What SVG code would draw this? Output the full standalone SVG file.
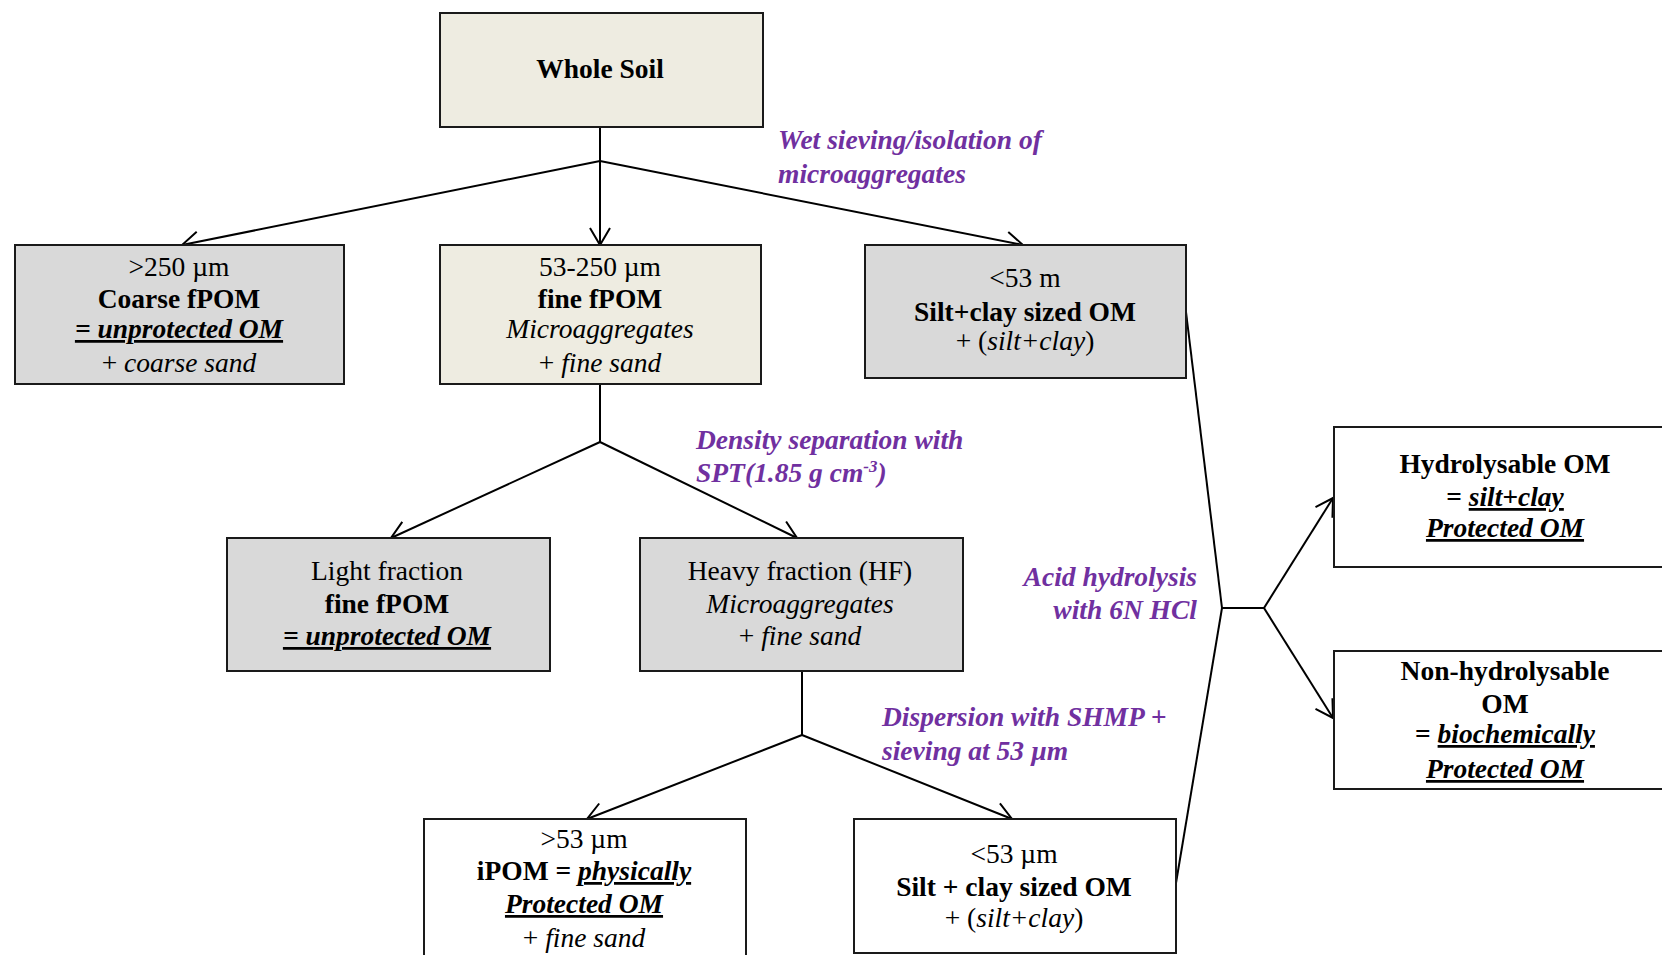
<svg xmlns="http://www.w3.org/2000/svg" width="1662" height="955" viewBox="0 0 1662 955">
<style>
text{font-family:"Liberation Serif","Times New Roman",serif;font-size:27.5px;fill:#000;text-anchor:middle}
.b{font-weight:bold}
.i{font-style:italic}
.bi{font-weight:bold;font-style:italic}
.u{text-decoration:underline}
.lbl{font-weight:bold;font-style:italic;fill:#7030A0;text-anchor:start}
.beige{fill:#EEECE1;stroke:#1a1a1a;stroke-width:2}
.grey{fill:#D9D9D9;stroke:#1a1a1a;stroke-width:2}
.white{fill:#FFFFFF;stroke:#1a1a1a;stroke-width:2}
.c line{stroke:#000;stroke-width:2;fill:none}
.a{marker-end:url(#arr)}
</style>
<defs>
<marker id="arr" markerUnits="userSpaceOnUse" markerWidth="40" markerHeight="40" viewBox="-20 -20 40 40" refX="0" refY="0" orient="auto">
<path d="M-17,-10 L0,0 L-17,10" fill="none" stroke="#000" stroke-width="2"/>
</marker>
</defs>
<rect width="1662" height="955" fill="#fff"/>

<g id="connectors" class="c">
<line x1="600" y1="127" x2="600" y2="161"/>
<line class="a" x1="600" y1="161" x2="182" y2="245"/>
<line class="a" x1="600" y1="161" x2="600" y2="245"/>
<line class="a" x1="600" y1="161" x2="1023" y2="245"/>
<line x1="600" y1="384" x2="600" y2="442"/>
<line class="a" x1="600" y1="442" x2="391" y2="538"/>
<line class="a" x1="600" y1="442" x2="797" y2="538"/>
<line x1="802" y1="671" x2="802" y2="735"/>
<line class="a" x1="802" y1="735" x2="587" y2="819"/>
<line class="a" x1="802" y1="735" x2="1012" y2="819"/>
<line x1="1186" y1="312" x2="1222" y2="608"/>
<line x1="1176" y1="883" x2="1222" y2="608"/>
<line x1="1222" y1="608" x2="1264" y2="608"/>
<line class="a" x1="1264" y1="608" x2="1333" y2="498"/>
<line class="a" x1="1264" y1="608" x2="1333" y2="718"/>
</g>

<g id="whole-soil">
<rect class="beige" x="440" y="13" width="323" height="114"/>
<text class="b" x="600" y="78">Whole Soil</text>
</g>

<g id="coarse-fpom">
<rect class="grey" x="15" y="245" width="329" height="139"/>
<text x="179" y="276">&gt;250 µm</text>
<text class="b" x="179" y="308">Coarse fPOM</text>
<text class="bi u" x="179" y="338">= unprotected OM</text>
<text x="179" y="372">+ <tspan class="i">coarse sand</tspan></text>
</g>

<g id="fine-fpom">
<rect class="beige" x="440" y="245" width="321" height="139"/>
<text x="600" y="276">53-250 µm</text>
<text class="b" x="600" y="308">fine fPOM</text>
<text class="i" x="600" y="338">Microaggregates</text>
<text x="600" y="372">+ <tspan class="i">fine sand</tspan></text>
</g>

<g id="silt-clay-upper">
<rect class="grey" x="865" y="245" width="321" height="133"/>
<text x="1025" y="287">&lt;53 m</text>
<text class="b" x="1025" y="321">Silt+clay sized OM</text>
<text x="1025" y="350">+ (<tspan class="i">silt+clay</tspan>)</text>
</g>

<g id="light-fraction">
<rect class="grey" x="227" y="538" width="323" height="133"/>
<text x="387" y="580">Light fraction</text>
<text class="b" x="387" y="613">fine fPOM</text>
<text class="bi u" x="387" y="645">= unprotected OM</text>
</g>

<g id="heavy-fraction">
<rect class="grey" x="640" y="538" width="323" height="133"/>
<text x="800" y="580">Heavy fraction (HF)</text>
<text class="i" x="800" y="613">Microaggregates</text>
<text x="800" y="645">+ <tspan class="i">fine sand</tspan></text>
</g>

<g id="ipom">
<rect class="white" x="424" y="819" width="322" height="160"/>
<text x="584" y="848">&gt;53 µm</text>
<text class="b" x="584" y="880">iPOM = <tspan class="bi u">physically</tspan></text>
<text class="bi u" x="584" y="913">Protected OM</text>
<text x="584" y="947">+ <tspan class="i">fine sand</tspan></text>
</g>

<g id="silt-clay-lower">
<rect class="white" x="854" y="819" width="322" height="134"/>
<text x="1014" y="863">&lt;53 µm</text>
<text class="b" x="1014" y="896">Silt + clay sized OM</text>
<text x="1014" y="927">+ (<tspan class="i">silt+clay</tspan>)</text>
</g>

<g id="hydrolysable">
<rect class="white" x="1334" y="427" width="345" height="140"/>
<text class="b" x="1505" y="473">Hydrolysable OM</text>
<text class="b" x="1505" y="506">= <tspan class="bi u">silt+clay</tspan></text>
<text class="bi u" x="1505" y="537">Protected OM</text>
</g>

<g id="non-hydrolysable">
<rect class="white" x="1334" y="651" width="345" height="138"/>
<text class="b" x="1505" y="680">Non-hydrolysable</text>
<text class="b" x="1505" y="713">OM</text>
<text class="b" x="1505" y="743">= <tspan class="bi u">biochemically</tspan></text>
<text class="bi u" x="1505" y="778">Protected OM</text>
</g>

<g id="labels">
<text class="lbl" x="778" y="149">Wet sieving/isolation of</text>
<text class="lbl" x="778" y="183">microaggregates</text>
<text class="lbl" x="696" y="449">Density separation with</text>
<text class="lbl" x="696" y="482">SPT(1.85 g cm<tspan dy="-10" font-size="17">-3</tspan><tspan dy="10">)</tspan></text>
<text class="lbl" x="882" y="726">Dispersion with SHMP +</text>
<text class="lbl" x="882" y="760">sieving at 53 µm</text>
<text class="lbl" x="1197" y="586" style="text-anchor:end">Acid hydrolysis</text>
<text class="lbl" x="1197" y="619" style="text-anchor:end">with 6N HCl</text>
</g>
</svg>
